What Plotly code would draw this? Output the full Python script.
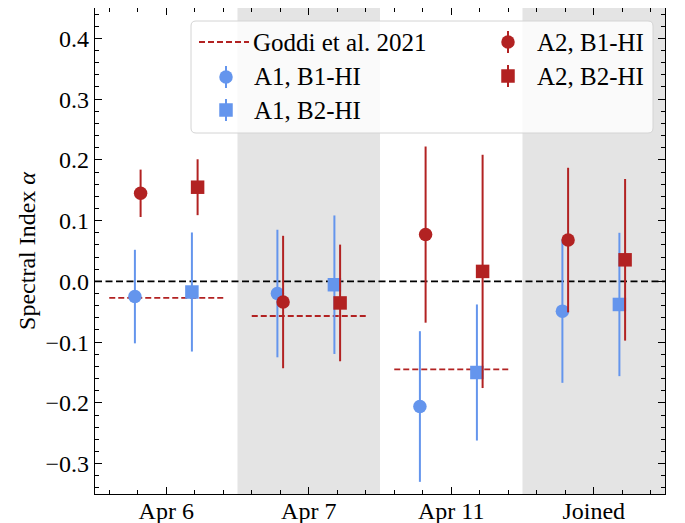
import plotly.graph_objects as go

# ---- data ----
categories = ["Apr 6", "Apr 7", "Apr 11", "Joined"]
cat_pos = [0, 1, 2, 3]

a1_b1 = [-0.025, -0.020, -0.206, -0.049]
a1_b1_err = [0.077, 0.105, 0.124, 0.118]
a1_b2 = [-0.0175, -0.0055, -0.150, -0.038]
a1_b2_err = [0.098, 0.114, 0.112, 0.118]
a2_b1 = [0.145, -0.034, 0.077, 0.068]
a2_b1_err = [0.039, 0.109, 0.145, 0.119]
a2_b2 = [0.155, -0.0355, 0.0164, 0.0355]
a2_b2_err = [0.046, 0.096, 0.192, 0.133]

goddi_pos = [0, 1, 2]
goddi_vals = [-0.027, -0.057, -0.145]
goddi_half = 0.4

series_names = ["A1, B1-HI", "A1, B2-HI", "A2, B1-HI", "A2, B2-HI"]
goddi_name = "Goddi et al. 2021"

offsets = [-0.22, 0.18, -0.18, 0.22]

BLUE = "#6495ED"
RED = "#B22222"
FONT = "Liberation Serif"
FS = 24
LFS = 25

fig = go.Figure()

gx, gy = [], []
for p, v in zip(goddi_pos, goddi_vals):
    gx += [p - goddi_half, p + goddi_half, None]
    gy += [v, v, None]
fig.add_trace(go.Scatter(x=gx, y=gy, mode="lines", name=goddi_name,
                         line=dict(color=RED, width=1.8, dash="6px,3px"),
                         showlegend=False))

series_vals = [a1_b1, a1_b2, a2_b1, a2_b2]
series_errs = [a1_b1_err, a1_b2_err, a2_b1_err, a2_b2_err]
series_cols = [BLUE, BLUE, RED, RED]
series_syms = ["circle", "square", "circle", "square"]

for vals, errs, off, col, sym, name in zip(series_vals, series_errs, offsets,
                                            series_cols, series_syms, series_names):
    fig.add_trace(go.Scatter(
        x=[p + off for p in cat_pos], y=vals, mode="markers", name=name,
        marker=dict(color=col, symbol=sym, size=13.5, line=dict(width=0)),
        error_y=dict(type="data", array=errs, visible=True, color=col,
                     thickness=2, width=0),
        showlegend=False))

# page body has an 8px margin; work in screen pixels and convert
OFF = 8
W, H = 685 - OFF, 523 - OFF
SL, SR, ST, SB = 95, 665, 8, 494          # plot area in screen pixels
L, T = SL - OFF, max(ST - OFF, 0)
R = W - (SR - OFF)
B = H - (SB - OFF)
PW, PH = W - L - R, H - T - B

def px(x):
    return (x - SL) / (SR - SL)

def py(y):
    return (SB - y) / (SB - ST)

shapes = []
for x0 in [0.5, 2.5]:
    shapes.append(dict(type="rect", xref="x", yref="paper", x0=x0, x1=x0 + 1,
                       y0=0, y1=1, fillcolor="#e4e4e4", line=dict(width=0),
                       layer="below"))
shapes.append(dict(type="line", xref="paper", yref="y", x0=0, x1=1, y0=0, y1=0,
                   line=dict(color="black", width=1.7, dash="7px,3.5px"),
                   layer="below"))

# ---- legend (drawn by hand) ----
bx0, bx1, by0, by1 = px(191), px(653), py(133), py(21)
rx, ry = 5 / PW, 5 / PH
path = (f"M{bx0+rx},{by1} L{bx1-rx},{by1} Q{bx1},{by1} {bx1},{by1-ry} "
        f"L{bx1},{by0+ry} Q{bx1},{by0} {bx1-rx},{by0} L{bx0+rx},{by0} "
        f"Q{bx0},{by0} {bx0},{by0+ry} L{bx0},{by1-ry} Q{bx0},{by1} {bx0+rx},{by1} Z")
shapes.append(dict(type="path", xref="paper", yref="paper", path=path,
                   fillcolor="rgba(255,255,255,0.8)",
                   line=dict(color="#d4d4d4", width=1), layer="above"))

annotations = []
def leg_text(x, y, text):
    annotations.append(dict(xref="paper", yref="paper", x=px(x), y=py(y),
                            xanchor="left", yanchor="middle", showarrow=False,
                            text=text, font=dict(family=FONT, size=LFS, color="black")))

shapes.append(dict(type="line", xref="paper", yref="paper", x0=px(199), x1=px(249),
                   y0=py(42), y1=py(42), line=dict(color=RED, width=1.8, dash="6px,3px"),
                   layer="above"))
leg_text(251, 42, goddi_name)

leg_items = [(226, 77, 252), (226, 110, 252), (508, 42, 535), (508, 76, 535)]
for (mx, my, tx), col, sym, name in zip(leg_items, series_cols, series_syms, series_names):
    shapes.append(dict(type="line", xref="paper", yref="paper", x0=px(mx), x1=px(mx),
                       y0=py(my + 11), y1=py(my - 11), line=dict(color=col, width=2),
                       layer="above"))
    shapes.append(dict(type="circle" if sym == "circle" else "rect",
                       xref="paper", yref="paper", xsizemode="pixel", ysizemode="pixel",
                       xanchor=px(mx), yanchor=py(my), x0=-6.75, x1=6.75, y0=-6.75, y1=6.75,
                       fillcolor=col, line=dict(width=0), layer="above"))
    leg_text(tx, my, name)

fig.update_layout(shapes=shapes, annotations=annotations)

fig.update_layout(
    width=W, height=H,
    margin=dict(l=L, r=R, t=T, b=B, pad=0, autoexpand=False),
    paper_bgcolor="white", plot_bgcolor="white",
    font=dict(family=FONT, size=FS, color="black"),
    showlegend=False,
)

axis_common = dict(showline=True, linecolor="black", linewidth=1.3, mirror="allticks",
                   ticks="inside", ticklen=7, tickwidth=1.2, tickcolor="black",
                   showgrid=False, zeroline=False, automargin=False,
                   tickfont=dict(family=FONT, size=FS, color="black"))
fig.update_xaxes(range=[-0.5, 3.5], tickvals=cat_pos, ticktext=categories,
                 ticklabelstandoff=-5,
                 minor=dict(ticks="inside", ticklen=3.5, tickwidth=1, tickcolor="black",
                            dtick=0.2, tick0=0, showgrid=False),
                 **axis_common)
fig.update_yaxes(range=[-0.35, 0.45], dtick=0.1, tick0=0, tickformat=".1f",
                 minor=dict(ticks="inside", ticklen=3.5, tickwidth=1, tickcolor="black",
                            dtick=0.02, tick0=0, showgrid=False),
                 title=dict(text="Spectral Index <i>α</i>", standoff=3,
                            font=dict(family=FONT, size=FS)),
                 **axis_common)

fig.write_html("out.html")
